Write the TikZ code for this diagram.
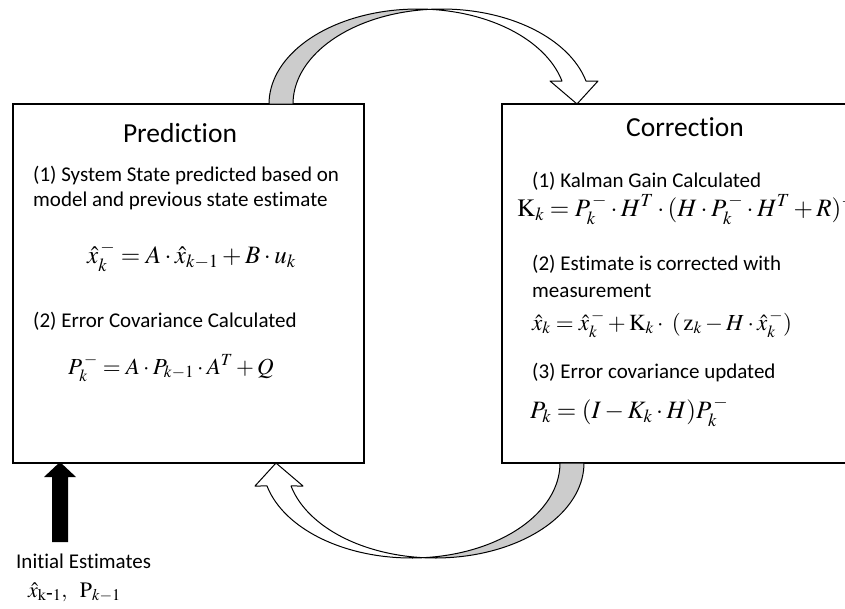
\documentclass[tikz,border=0pt]{standalone}
\usepackage{mathptmx}
\usepackage{fontspec}
\setmainfont{Carlito}[Ligatures={NoCommon}]
\usetikzlibrary{shadows}
\newcommand\kfarrowshape{%
  \filldraw[backface] plot[domain=180:274.63, samples=40] ({417.7+148.7*cos(\x)},{104+95*sin(\x)})
     -- plot[domain=265.37:180, samples=40] ({441.7+148.7*cos(\x)},{104+95*sin(\x)}) -- cycle;
  \filldraw[frontface] plot[domain=265.37:346, samples=40] ({441.7+148.7*cos(\x)},{104+95*sin(\x)})
     -- (598,81) -- (577,104) -- (550,81)
     -- plot[domain=346:274.63, samples=40] ({417.7+148.7*cos(\x)},{104+95*sin(\x)}) -- cycle;
}
\begin{document}
\begin{tikzpicture}[x=1pt,y=-1pt,
  box/.style={draw=black, line width=1.1pt, fill=white, inner sep=0pt,
    drop shadow={shadow xshift=1.2pt, shadow yshift=-1.2pt, opacity=0.3}},
  backface/.style={draw=black, line width=1pt, line join=round, fill=black!20},
  frontface/.style={draw=black, line width=1pt, line join=round, fill=white},
  title/.style={font=\fontsize{27.5}{32}\selectfont, anchor=base, inner sep=0pt},
  body/.style={font=\fontsize{21}{25}\selectfont, anchor=base west, inner sep=0pt, align=left},
  eqL/.style={font=\fontsize{25}{28}\selectfont, anchor=base west, inner sep=0pt},
  eqR/.style={font=\fontsize{24}{28}\selectfont, anchor=base west, inner sep=0pt}]
\useasboundingbox (0,0) rectangle (845,608);
\clip (0,0) rectangle (845,608);
% boxes
\node[box, minimum width=351pt, minimum height=359pt] (pred) at (188.5,283.5) {};
\node[box, minimum width=353pt, minimum height=359pt] (corr) at (678.5,283.5) {};
% curved arrows
\kfarrowshape
\begin{scope}[rotate around={180:(426.5,283.5)}]
\kfarrowshape
\end{scope}
% initial arrow
\fill (52,542) -- (52,477) -- (44,477) -- (60,462) -- (76,477) -- (68,477) -- (68,542) -- cycle;
% prediction texts
\node[title] (pt) at (180,142) {Prediction};
\node[body] (p1) at (33,181) {(1) System State predicted based on};
\node[body] (p2) at (33,206) {model and previous state estimate};
\node[eqL] (pe1) at (87,263) {$\hat{x}_k^{\,-} = A\cdot\hat{x}_{k-1} + B\cdot u_k$};
\node[body] (p3) at (33,327) {(2) Error Covariance Calculated};
\node[eqL, font=\fontsize{23}{26}\selectfont] (pe2) at (68,374) {$P_k^{\,-} = A\cdot P_{k-1}\cdot A^T + Q$};
% correction texts
\node[title] (ct) at (685,136) {Correction};
\node[body] (c1) at (532,187) {(1) Kalman Gain Calculated};
\node[eqR, font=\fontsize{25}{28}\selectfont] (ce1) at (517,216) {$\mathrm{K}_k = P_k^{\,-}\cdot H^T\cdot(H\cdot P_k^{\,-}\cdot H^T + R)^{-1}$};
\node[body] (c2) at (532,270) {(2) Estimate is corrected with};
\node[body] (c3) at (532,297) {measurement};
\node[eqR, font=\fontsize{23}{26}\selectfont] (ce2) at (532,330) {$\hat{x}_k = \hat{x}_k^{\,-} + \mathrm{K}_k\cdot\;(\,\mathrm{z}_k - H\cdot\hat{x}_k^{\,-})$};
\node[body] (c4) at (532,378) {(3) Error covariance updated};
\node[eqR, font=\fontsize{25}{28}\selectfont] (ce3) at (530,418) {$P_k = (I - K_k\cdot H)P_k^{\,-}$};
% initial estimates
\node[body] (ie) at (16,568) {Initial Estimates};
\node[eqR, font=\fontsize{22}{24}\selectfont] (ie2) at (28,597) {$\hat{x}_{\mathrm{k}\mbox{-}\mathrm{1}},\;\;\mathrm{P}_{k-1}$};
\end{tikzpicture}
\end{document}
